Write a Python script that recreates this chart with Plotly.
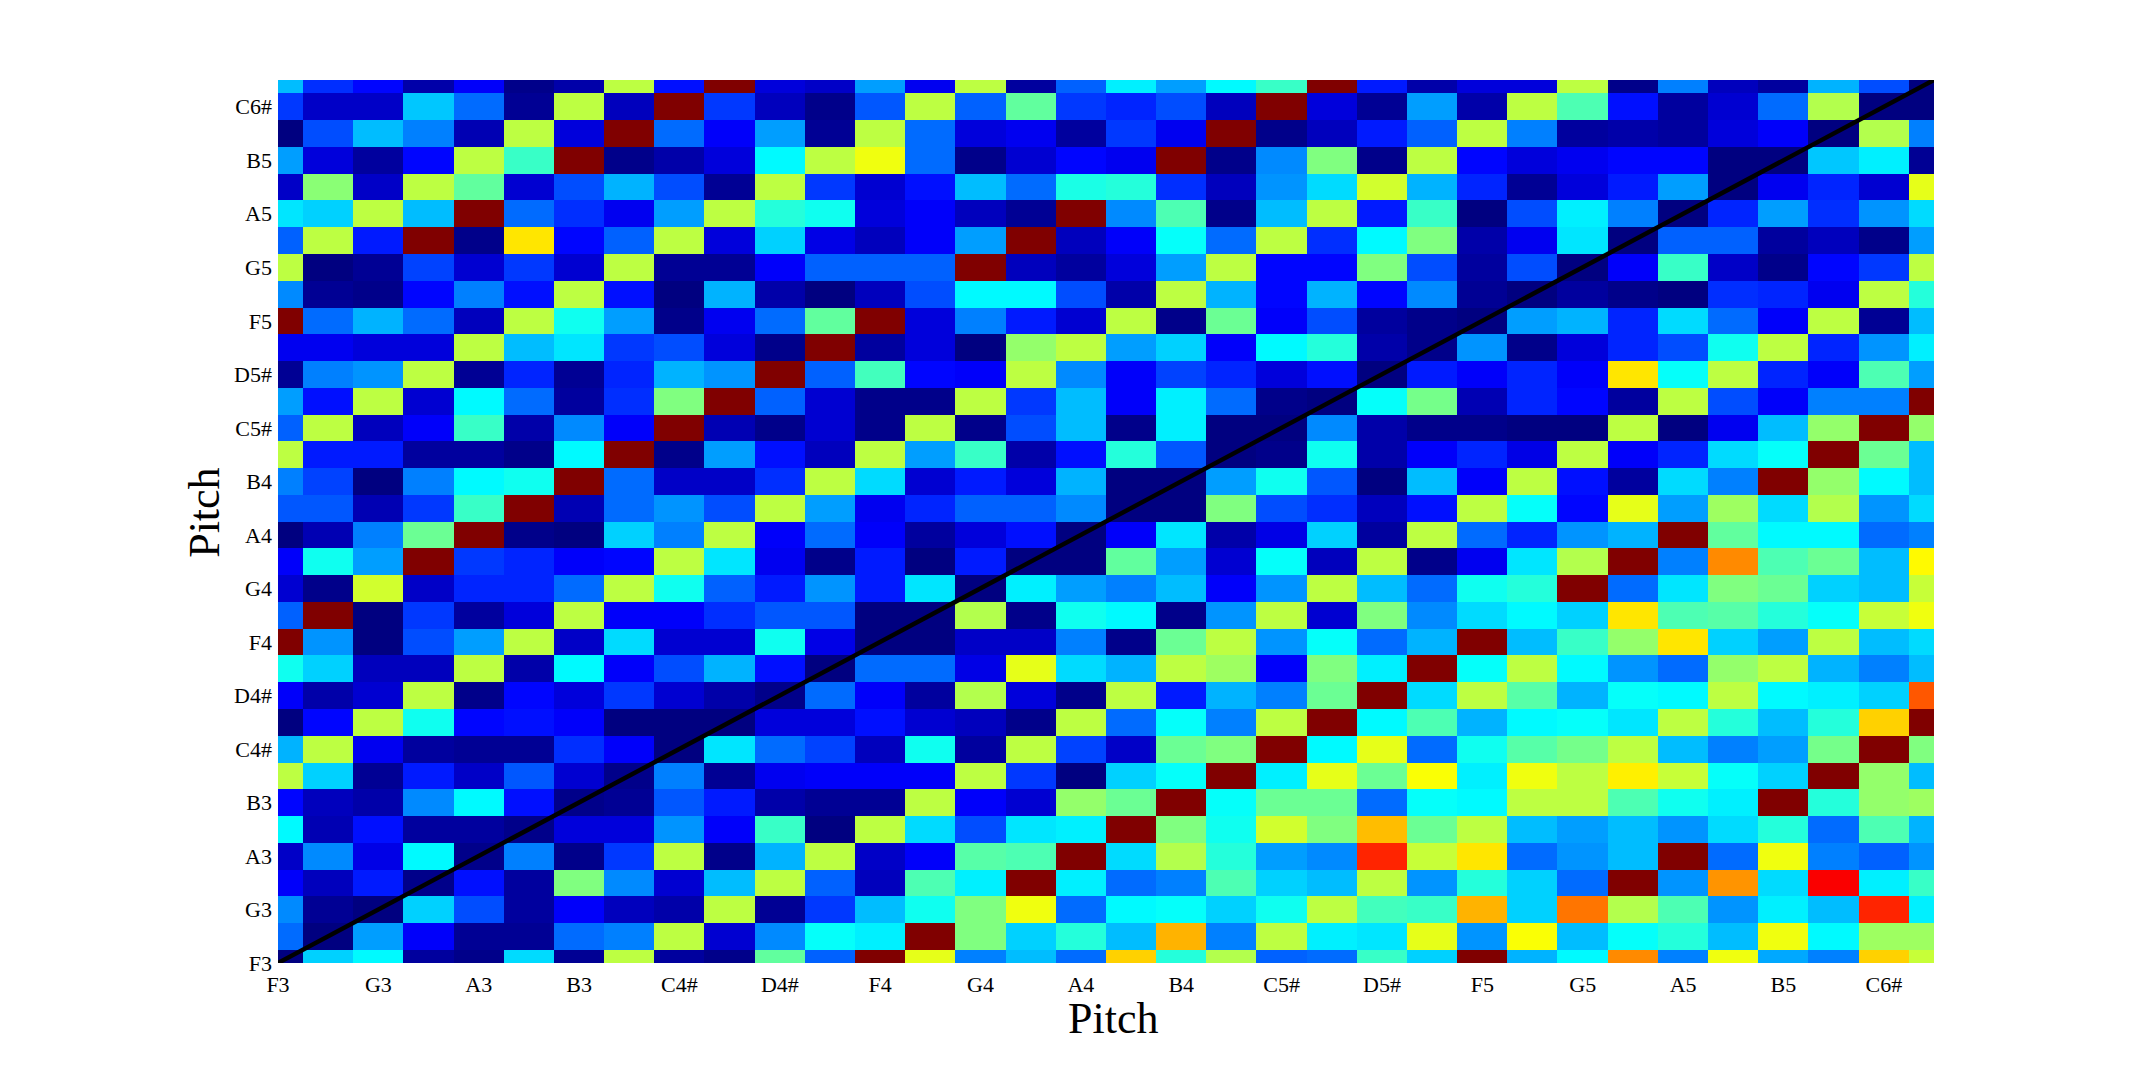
import numpy as np
import plotly.graph_objects as go

tick_labels = ["F3","G3","A3","B3","C4#","D4#","F4","G4","A4","B4","C5#","D5#","F5","G5","A5","B5","C6#"]
tick_positions = list(range(0, 33, 2))
pitch_index = list(range(34))
diagonal = [0, 33]

# rows listed from the bottom (F3) to the top
r00 = [0,33,37,3,1,34,2,56,3,1,47,22,100,60,25,31,23,67,41,55,22,23,43,33,100,30,37,74,25,61,29,25,67,57]
r01 = [23,0,28,12,2,2,23,25,56,8,26,38,36,100,50,33,41,31,70,25,56,36,35,60,27,62,31,38,41,31,61,37,53,53]
r02 = [26,2,0,33,20,3,12,6,4,56,2,18,31,39,50,61,23,37,38,33,39,56,44,43,70,33,76,55,45,27,36,31,84,36]
r03 = [12,6,15,1,14,3,50,26,8,31,56,22,6,45,36,100,36,23,25,45,33,31,56,27,41,33,23,100,27,73,34,88,36,43]
r04 = [7,26,10,37,1,25,1,18,56,1,30,56,7,12,46,45,100,34,55,41,28,26,84,57,65,23,27,31,100,23,61,25,22,27]
r05 = [37,5,14,3,3,1,9,9,27,12,43,0,56,34,20,35,36,100,50,39,58,50,69,48,56,31,28,31,27,34,41,23,45,30]
r06 = [13,6,4,26,37,14,1,2,21,15,4,2,2,56,12,8,52,48,100,38,48,48,23,38,37,56,56,45,39,36,100,41,52,53]
r07 = [56,33,2,15,7,21,8,1,25,2,11,12,12,12,56,18,0,33,38,100,36,60,48,62,36,61,56,64,57,38,33,100,52,31]
r08 = [30,56,11,3,2,2,17,12,0,35,23,19,6,39,3,56,19,7,48,50,100,37,60,23,39,46,49,56,31,25,28,49,100,50]
r09 = [0,13,56,39,13,14,12,0,0,0,9,9,14,8,6,1,56,23,38,25,56,100,37,45,30,37,38,35,56,41,31,41,67,100]
r10 = [12,4,8,56,1,13,9,18,8,4,1,23,12,3,55,9,1,56,15,30,25,48,100,34,56,46,30,38,37,56,37,36,33,79]
r11 = [39,33,6,6,56,4,37,12,20,30,14,0,23,23,10,60,34,30,56,53,12,50,36,100,38,56,37,27,23,52,56,30,25,31]
r12 = [100,27,0,20,28,56,7,34,8,8,39,10,0,0,7,7,25,1,48,56,27,38,23,30,100,31,43,52,65,33,28,56,31,34]
r13 = [22,100,0,18,3,9,56,12,12,17,21,21,0,0,55,1,39,37,1,27,56,8,50,26,34,37,33,65,45,46,41,38,57,61]
r14 = [8,1,58,7,16,16,23,56,39,22,15,27,15,35,0,36,28,25,31,12,27,56,31,23,39,41,100,23,35,50,48,33,31,57]
r15 = [12,39,28,100,18,16,12,13,56,35,11,1,15,0,15,0,0,47,28,8,38,6,56,1,11,35,55,100,25,74,45,48,31,63]
r16 = [0,5,25,48,100,1,0,33,25,56,12,23,12,3,9,14,0,12,35,4,10,33,3,56,23,16,27,30,100,47,37,37,23,25]
r17 = [21,21,5,18,43,100,5,23,27,20,56,28,11,16,22,22,26,0,0,50,20,17,6,14,56,38,13,60,28,53,34,55,27,34]
r18 = [25,19,0,25,37,39,100,23,7,7,17,56,34,8,15,9,30,0,0,28,39,21,0,31,12,56,14,3,34,25,100,52,37,31]
r19 = [56,15,15,3,3,1,37,100,1,28,14,6,56,28,43,4,14,41,21,0,1,39,4,12,16,10,56,12,16,34,38,100,48,31]
r20 = [22,56,6,12,43,4,26,12,100,5,1,8,1,56,1,20,31,1,36,0,0,26,4,1,1,0,0,56,0,11,31,52,100,52]
r21 = [28,14,56,8,37,23,3,17,50,100,22,8,1,1,56,18,31,12,36,23,1,0,38,49,5,16,13,3,56,20,12,25,25,100]
r22 = [2,25,27,56,2,16,2,16,30,27,100,22,44,13,12,56,26,12,19,16,9,14,0,15,12,16,12,65,38,56,16,12,45,28]
r23 = [11,11,9,9,56,31,35,18,20,9,1,100,3,9,0,52,56,28,33,12,37,41,4,1,27,1,9,16,20,39,56,16,27,36]
r24 = [100,23,30,23,6,56,39,28,1,11,23,47,100,9,25,15,8,56,1,48,12,20,3,1,0,28,30,16,34,23,12,56,2,31]
r25 = [26,2,1,13,25,14,56,14,0,30,4,0,6,20,37,37,20,4,56,30,13,30,13,26,2,0,3,1,0,17,16,11,56,41]
r26 = [56,0,2,19,8,18,8,56,2,2,12,22,22,22,100,6,3,9,28,56,13,13,50,20,3,20,0,12,43,7,1,13,18,56]
r27 = [22,56,15,100,1,65,13,22,56,9,33,10,6,12,28,100,6,12,38,23,56,17,37,50,4,11,35,0,22,22,3,6,1,28]
r28 = [35,33,56,31,100,23,17,11,28,56,41,39,9,12,6,2,100,26,45,1,31,56,15,43,0,20,36,25,0,16,28,17,27,34]
r29 = [7,51,7,56,47,8,20,30,20,2,56,18,8,14,31,23,40,41,17,6,27,34,58,30,16,2,9,15,28,0,11,16,8,60]
r30 = [28,9,3,13,56,43,100,1,4,9,37,56,61,23,1,8,13,11,100,1,26,50,1,56,13,9,11,13,13,0,0,32,36,2]
r31 = [0,20,31,25,5,56,9,100,23,12,28,2,56,23,9,11,3,18,11,100,1,6,15,22,56,25,3,4,3,9,12,0,55,25]
r32 = [18,7,7,32,23,2,56,6,100,18,6,1,21,56,22,47,18,16,20,6,100,9,2,28,4,56,45,14,3,8,23,55,0,0]
r33 = [31,17,13,4,12,1,4,56,14,100,9,7,28,11,56,3,22,36,28,37,43,100,15,4,9,9,56,1,25,6,3,30,20,0]

rows = [r00,r01,r02,r03,r04,r05,r06,r07,r08,r09,r10,r11,r12,r13,r14,r15,r16,
        r17,r18,r19,r20,r21,r22,r23,r24,r25,r26,r27,r28,r29,r30,r31,r32,r33]
z = np.array(rows)
assert z.shape == (34, 34)

jet = [[0, "rgb(0,0,128)"], [0.125, "rgb(0,0,255)"], [0.375, "rgb(0,255,255)"],
       [0.625, "rgb(255,255,0)"], [0.875, "rgb(255,0,0)"], [1, "rgb(128,0,0)"]]

serif = "Liberation Serif, DejaVu Serif, serif"
fig = go.Figure()
fig.add_trace(go.Heatmap(z=z, x=pitch_index, y=pitch_index, colorscale=jet, zmin=0, zmax=100,
                         showscale=False))
fig.add_trace(go.Scatter(x=diagonal, y=diagonal, mode="lines",
                         line=dict(color="black", width=4.5), showlegend=False, hoverinfo="skip"))

axis = dict(range=[0, 33], tickmode="array", tickvals=tick_positions, ticktext=tick_labels,
            showgrid=False, zeroline=False, showline=False, ticks="",
            tickfont=dict(family=serif, size=22, color="black"))
fig.update_xaxes(ticklabelstandoff=6, **axis)
fig.update_yaxes(ticklabelstandoff=5, **axis)
fig.update_layout(
    width=2128, height=1066, autosize=False,
    margin=dict(l=270, r=202, t=72, b=111),
    plot_bgcolor="white", paper_bgcolor="white", showlegend=False,
    annotations=[
        dict(text="Pitch", xref="paper", yref="paper", x=0.504, y=-0.0625, xanchor="center", yanchor="middle",
             showarrow=False, font=dict(family=serif, size=44, color="black")),
        dict(text="Pitch", xref="paper", yref="paper", x=-0.0443, y=0.5094, xanchor="center", yanchor="middle",
             textangle=-90, showarrow=False, font=dict(family=serif, size=44, color="black")),
    ],
)
fig.write_html("out.html")
